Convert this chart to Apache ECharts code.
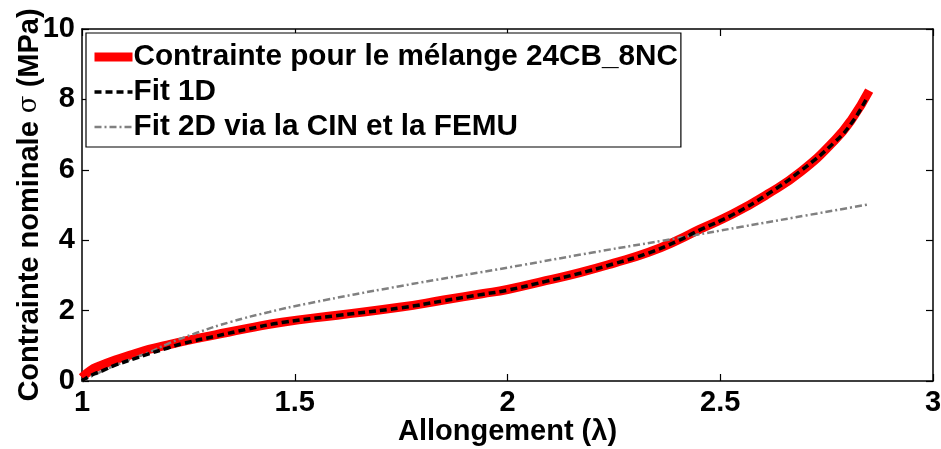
<!DOCTYPE html>
<html>
<head>
<meta charset="utf-8">
<script src="https://cdn.jsdelivr.net/npm/echarts@6/dist/echarts.min.js"></script>
<style>html,body{margin:0;padding:0;background:#fff}#c{width:941px;height:449px}</style>
</head>
<body>
<div id="c"></div>
<script>
const seriesNames = ["Contrainte pour le mélange 24CB_8NC", "Fit 1D", "Fit 2D via la CIN et la FEMU"];
const xTicks = [1, 1.5, 2, 2.5, 3];
const yTicks = [0, 2, 4, 6, 8, 10];
const redData = [[1.0,0.1],[1.02,0.3],[1.04,0.42],[1.078,0.6],[1.12,0.76],[1.157,0.9],[1.2,1.02],[1.235,1.12],[1.313,1.31],[1.392,1.5],[1.47,1.67],[1.6,1.87],[1.75,2.1],[1.85,2.3],[1.94,2.48],[2.0,2.6],[2.09,2.85],[2.17,3.08],[2.25,3.35],[2.33,3.65],[2.4,4.0],[2.45,4.3],[2.53,4.75],[2.61,5.3],[2.69,5.95],[2.77,6.85],[2.81,7.45],[2.85,8.25]];
const blackData = [[1.0,0.0],[1.023,0.17],[1.05,0.3],[1.078,0.45],[1.12,0.62],[1.157,0.77],[1.2,0.93],[1.235,1.06],[1.313,1.27],[1.392,1.48],[1.47,1.66],[1.6,1.86],[1.75,2.08],[1.85,2.28],[1.94,2.46],[2.0,2.58],[2.09,2.83],[2.17,3.06],[2.25,3.33],[2.33,3.63],[2.4,3.98],[2.45,4.28],[2.53,4.73],[2.61,5.3],[2.69,5.98],[2.77,6.8],[2.81,7.35],[2.845,8.05]];
const grayData = [[1.0,0.0],[1.04,0.24],[1.08,0.45],[1.16,0.83],[1.2,1.05],[1.27,1.37],[1.35,1.68],[1.44,1.96],[1.53,2.2],[1.75,2.7],[2.0,3.22],[2.2,3.65],[2.4,4.06],[2.55,4.38],[2.7,4.7],[2.85,5.02]];

const FONT = '"Liberation Sans", Arial, sans-serif';
const chart = echarts.init(document.getElementById('c'));
const axisCommon = {
  axisLine: {show: true, onZero: false, lineStyle: {color: '#000', width: 1.5}},
  axisTick: {show: true, inside: true, length: 7, lineStyle: {color: '#000', width: 1.2}},
  splitLine: {show: false}
};
chart.setOption({
  animation: false,
  backgroundColor: '#fff',
  grid: {left: 82, right: 8, top: 29, bottom: 68, containLabel: false, outerBoundsMode: 'none'},
  legend: {
    orient: 'vertical', left: 86, top: 33,
    data: seriesNames,
    backgroundColor: '#fff', borderColor: '#000', borderWidth: 1.2, borderRadius: 0,
    padding: [9, 3, 5, 4],
    itemWidth: 38, itemHeight: 14, itemGap: 5,
    itemStyle: {opacity: 0},
    lineStyle: {width: 'inherit'},
    textStyle: {fontFamily: FONT, fontWeight: 'bold', fontSize: 29.7, color: '#000', lineHeight: 30, padding: [0,0,0,-4]}
  },
  xAxis: [
    Object.assign({type: 'value', position: 'bottom', min: 1, max: 3, interval: 0.5,
      name: 'Allongement (λ)', nameLocation: 'middle', nameGap: 36, nameMoveOverlap: false,
      nameTextStyle: {fontFamily: FONT, fontWeight: 'bold', fontSize: 29, color: '#000'},
      axisLabel: {fontFamily: FONT, fontWeight: 'bold', fontSize: 29, color: '#000', margin: 7,
        customValues: xTicks, formatter: v => String(v)}}, axisCommon),
    Object.assign({type: 'value', position: 'top', min: 1, max: 3, interval: 0.5,
      axisLabel: {show: false}}, axisCommon)
  ],
  yAxis: [
    Object.assign({type: 'value', position: 'left', min: 0, max: 10, interval: 2,
      name: '{a|Contrainte nominale }{s|σ}{a| (MPa)}', nameLocation: 'middle', nameGap: 38, nameRotate: 90,
      nameMoveOverlap: false,
      nameTextStyle: {rich: {
        a: {fontFamily: FONT, fontWeight: 'bold', fontSize: 29, color: '#000'},
        s: {fontFamily: '"DejaVu Serif", serif', fontWeight: 'normal', fontSize: 26, color: '#000'}}},
      axisLabel: {fontFamily: FONT, fontWeight: 'bold', fontSize: 29, color: '#000', margin: 7,
        customValues: yTicks, formatter: v => String(v)}}, axisCommon),
    Object.assign({type: 'value', position: 'right', min: 0, max: 10, interval: 2,
      axisLabel: {show: false}}, axisCommon)
  ],
  series: [
    {name: seriesNames[0], type: 'line', data: redData, smooth: true, showSymbol: false, symbol: 'none',
      lineStyle: {color: '#ff0000', width: 9}, itemStyle: {color: '#ff0000'}, z: 2},
    {name: seriesNames[1], type: 'line', data: blackData, smooth: true, showSymbol: false, symbol: 'none',
      lineStyle: {color: '#000', width: 3.5, type: [7, 4]}, itemStyle: {color: '#000'}, z: 4},
    {name: seriesNames[2], type: 'line', data: grayData, smooth: true, showSymbol: false, symbol: 'none',
      lineStyle: {color: '#808080', width: 2.5, type: [7, 3, 2, 3]}, itemStyle: {color: '#808080'}, z: 3}
  ]
});
</script>
</body>
</html>
